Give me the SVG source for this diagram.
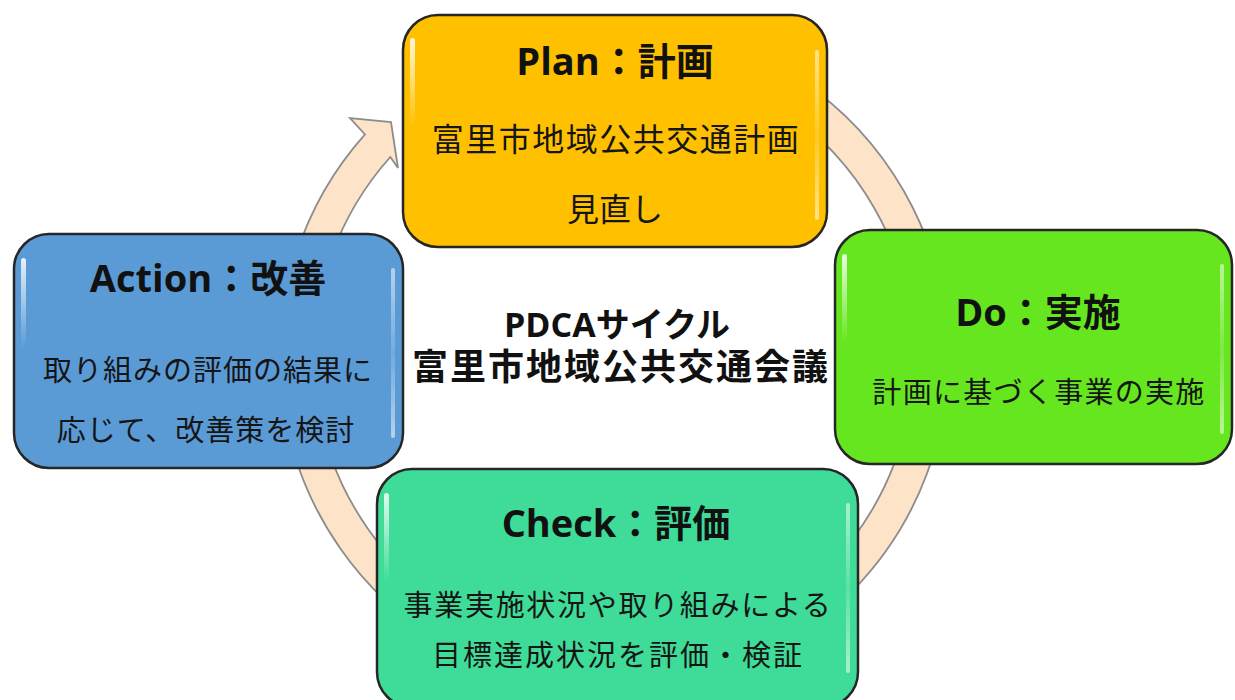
<svg xmlns="http://www.w3.org/2000/svg" width="1235" height="700" viewBox="0 0 1235 700">
<style>
.box{stroke:#262626;stroke-width:2.5}
.t{font-family:"Open Sans","Noto Sans CJK JP",sans-serif;font-weight:700;font-size:38px;fill:#111;text-anchor:middle}
.b{font-family:"Noto Sans CJK JP",sans-serif;font-weight:400;fill:#151515;text-anchor:middle}
.c{font-family:"Open Sans","Noto Sans CJK JP",sans-serif;font-weight:700;fill:#111;text-anchor:middle}
.hl{fill:url(#hlg)}
.hr{fill:url(#hrg)}
</style>
<defs>
<linearGradient id="hlg" x1="0" y1="0" x2="0" y2="1">
<stop offset="0" stop-color="#fff" stop-opacity="0.85"/>
<stop offset="1" stop-color="#fff" stop-opacity="0"/>
</linearGradient>
<linearGradient id="hrg" x1="0" y1="0" x2="0" y2="1">
<stop offset="0" stop-color="#fff" stop-opacity="0.55"/>
<stop offset="0.5" stop-color="#fff" stop-opacity="0.15"/>
<stop offset="1" stop-color="#fff" stop-opacity="0.55"/>
</linearGradient>
</defs>
<rect width="1235" height="700" fill="#fff"/>
<g id="connectors">
<path d="M 672.0,28.1 A 334 334 0 1 1 365.0,134.4 L 350,118 L 391,122 L 398,168 L 390.3,157.0 A 300 300 0 1 0 666.1,61.6 Z" fill="#FDE3C8" stroke="#8c8c8c" stroke-width="1.8" stroke-linejoin="miter"/>
</g>
<g id="plan">
<rect class="box" x="403" y="15" width="424" height="232" rx="35" fill="#FFC000"/>
<rect class="hl" x="410" y="38" width="5" height="90" rx="2.5"/>
<rect class="hr" x="815" y="50" width="4" height="170" rx="2"/>
<text class="t" x="615" y="75">Plan：計画</text>
<text class="b" x="616" y="151" font-size="32" letter-spacing="1.5">富里市地域公共交通計画</text>
<text class="b" x="615" y="221" font-size="32">見直し</text>
</g>
<g id="action">
<rect class="box" x="14" y="234" width="389" height="234" rx="35" fill="#5B9BD5"/>
<rect class="hl" x="21" y="258" width="5" height="90" rx="2.5"/>
<rect class="hr" x="391" y="268" width="4" height="170" rx="2"/>
<text class="t" x="208" y="292">Action：改善</text>
<text class="b" x="208" y="381" font-size="29" letter-spacing="1">取り組みの評価の結果に</text>
<text class="b" x="206" y="441" font-size="29" letter-spacing="1">応じて、改善策を検討</text>
</g>
<g id="do">
<rect class="box" x="835" y="230" width="397" height="234" rx="35" fill="#66E61E"/>
<rect class="hl" x="842" y="254" width="5" height="90" rx="2.5"/>
<rect class="hr" x="1220" y="264" width="4" height="170" rx="2"/>
<text class="t" x="1038" y="326">Do：実施</text>
<text class="b" x="1039" y="403" font-size="29" letter-spacing="1.3">計画に基づく事業の実施</text>
</g>
<g id="check">
<rect class="box" x="377" y="469" width="481" height="238" rx="35" fill="#3EDC98"/>
<rect class="hl" x="384" y="493" width="5" height="90" rx="2.5"/>
<rect class="hr" x="846" y="503" width="4" height="170" rx="2"/>
<text class="t" x="616" y="537">Check：評価</text>
<text class="b" x="618" y="616" font-size="29" letter-spacing="1.7">事業実施状況や取り組みによる</text>
<text class="b" x="618" y="666" font-size="29" letter-spacing="2">目標達成状況を評価・検証</text>
</g>
<g id="center">
<text class="c" x="617" y="337" font-size="34">PDCAサイクル</text>
<text class="c" x="621" y="380" font-size="36" letter-spacing="2">富里市地域公共交通会議</text>
</g>
</svg>
